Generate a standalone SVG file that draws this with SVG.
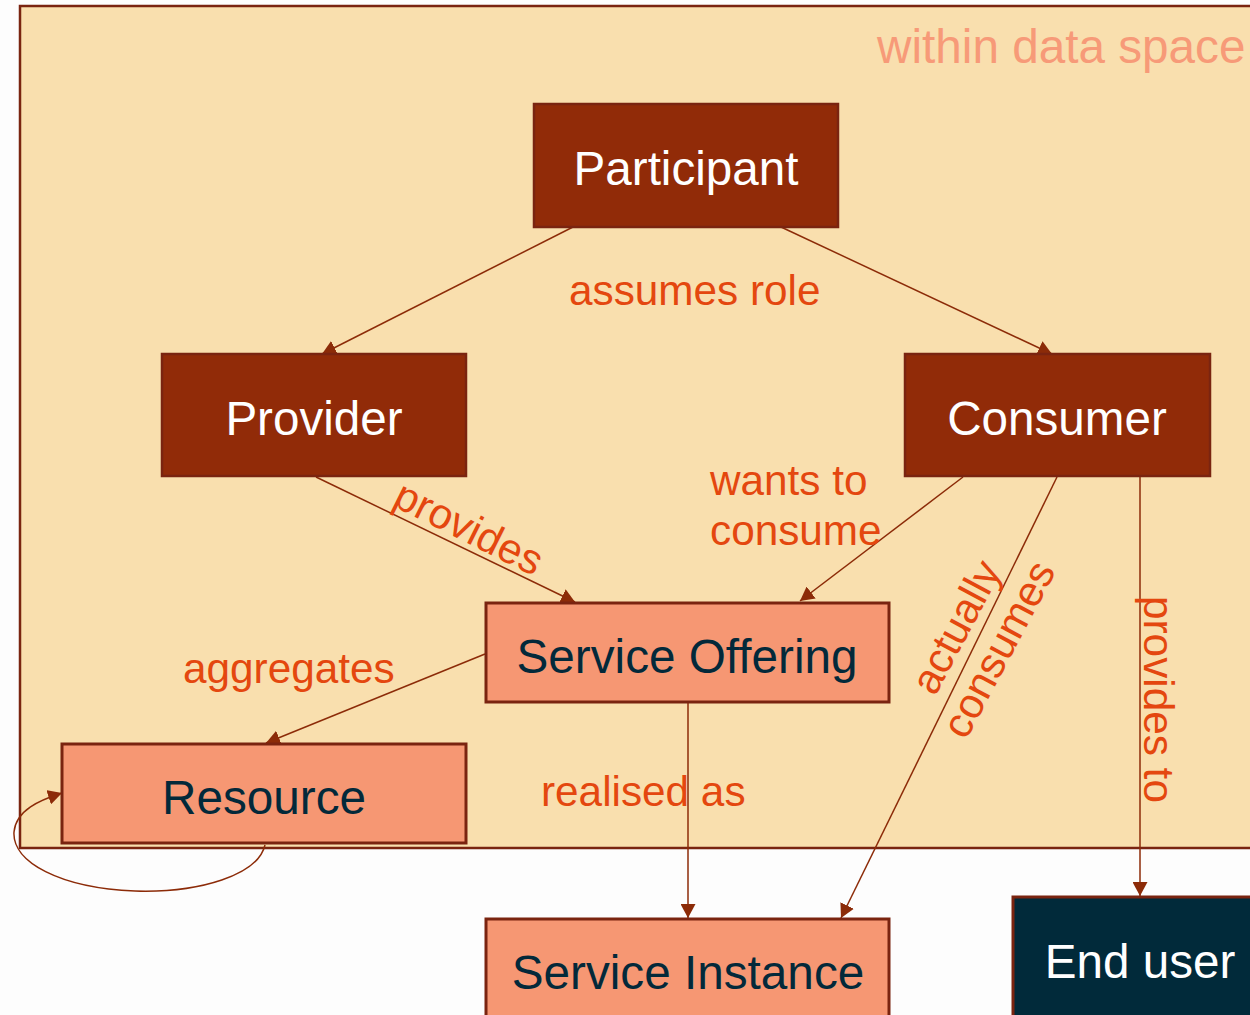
<svg xmlns="http://www.w3.org/2000/svg" width="1250" height="1015" viewBox="0 0 1250 1015">
<defs>
<marker id="arr" viewBox="0 0 14 15" refX="14" refY="7.5" markerWidth="14" markerHeight="15" markerUnits="userSpaceOnUse" orient="auto">
<path d="M0,0 L14,7.5 L0,15 Z" fill="#8C2B08"/>
</marker>
<style>
.dark{fill:#912B08;stroke:#7A2410;stroke-width:2.5}
.light{fill:#F69773;stroke:#7A2410;stroke-width:3}
.navy{fill:#012A3A;stroke:#7A2410;stroke-width:3}
.tw{font-family:"Liberation Sans",Arial,sans-serif;font-size:47.6px;fill:#FFFFFF;text-anchor:middle}
.tn{font-family:"Liberation Sans",Arial,sans-serif;font-size:47.7px;fill:#03293A;text-anchor:middle}
.lbl{font-family:"Liberation Sans",Arial,sans-serif;font-size:42.3px;fill:#E4470F}
.con{fill:none;stroke:#8C2B08;stroke-width:1.5;marker-end:url(#arr)}
</style>
</defs>
<rect x="0" y="0" width="1250" height="1015" fill="#FDFDFD"/>
<g id="dataspace">
<rect x="20" y="6" width="1245" height="842" fill="#F9DFAE" stroke="#7A2410" stroke-width="2.5"/>
<text x="877" y="63" font-family="'Liberation Sans',Arial,sans-serif" font-size="47.7" fill="#F79A78">within data space</text>
</g>
<g id="connectors">
<line class="con" x1="573" y1="227" x2="322" y2="354"/>
<line class="con" x1="781" y1="227" x2="1052" y2="354"/>
<line class="con" x1="316" y1="477" x2="575" y2="602"/>
<line class="con" x1="963" y1="477" x2="800" y2="601"/>
<line class="con" x1="485" y1="654" x2="266" y2="743"/>
<line class="con" x1="688" y1="702" x2="688" y2="918"/>
<line class="con" x1="1057" y1="477" x2="841" y2="918"/>
<line class="con" x1="1140" y1="477" x2="1140" y2="896"/>
<path class="con" d="M265,845 C258,875 200,893 135,891 C60,888 12,862 14,832 C16,810 40,800 62,793"/>
<text class="lbl" x="569" y="305">assumes role</text>
<text class="lbl" x="710" y="495">wants to</text>
<text class="lbl" x="710" y="545">consume</text>
<text class="lbl" x="183" y="683">aggregates</text>
<text class="lbl" x="541" y="806">realised as</text>
<text class="lbl" transform="translate(391,505) rotate(26.5)">provides</text>
<text class="lbl" transform="translate(935,697) rotate(-62)">actually</text>
<text class="lbl" transform="translate(966,741) rotate(-62)">consumes</text>
<text class="lbl" transform="translate(1144,596) rotate(90)">provides to</text>
</g>
<g id="participant">
<rect class="dark" x="534" y="104" width="304" height="123"/>
<text class="tw" x="686" y="185">Participant</text>
</g>
<g id="provider">
<rect class="dark" x="162" y="354" width="304" height="122"/>
<text class="tw" x="314" y="435">Provider</text>
</g>
<g id="consumer">
<rect class="dark" x="905" y="354" width="305" height="122"/>
<text class="tw" x="1057" y="435">Consumer</text>
</g>
<g id="service-offering">
<rect class="light" x="486" y="603" width="403" height="99"/>
<text class="tn" x="687" y="673">Service Offering</text>
</g>
<g id="resource">
<rect class="light" x="62" y="744" width="404" height="99"/>
<text class="tn" x="264" y="814">Resource</text>
</g>
<g id="service-instance">
<rect class="light" x="486" y="919" width="403" height="110"/>
<text class="tn" x="688" y="989">Service Instance</text>
</g>
<g id="end-user">
<rect class="navy" x="1013" y="897" width="250" height="130"/>
<text class="tw" x="1140" y="978">End user</text>
</g>
</svg>
